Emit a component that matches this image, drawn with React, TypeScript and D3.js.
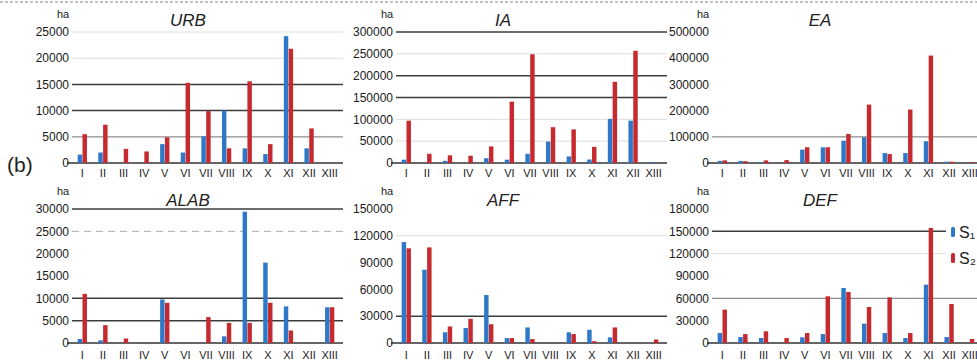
import React from "react";
import * as d3 from "d3";

const categories = ["I", "II", "III", "IV", "V", "VI", "VII", "VIII", "IX", "X", "XI", "XII", "XIII"];
const seriesNames = ["S₁", "S₂"];

// values in ha
const urbS1 = [1600, 2000, 0, 0, 3600, 2000, 5100, 10000, 2800, 1700, 24200, 2800, 0];
const urbS2 = [5500, 7300, 2700, 2200, 4900, 15300, 9900, 2800, 15600, 3600, 21800, 6600, 0];
const iaS1 = [7600, 0, 5000, 0, 11000, 7600, 21000, 49000, 15000, 8000, 101000, 97000, 2000];
const iaS2 = [97000, 21000, 17500, 16700, 38000, 140500, 249000, 82000, 77000, 37000, 186000, 257000, 0];
const eaS1 = [8000, 8000, 3000, 1000, 51000, 60000, 85000, 98000, 38000, 38000, 83000, 5000, 0];
const eaS2 = [10000, 7000, 10000, 11000, 60000, 60000, 111000, 223000, 34000, 204000, 410000, 5000, 3000];
const alabS1 = [900, 600, 0, 0, 9750, 0, 0, 1500, 29400, 18000, 8200, 0, 8000];
const alabS2 = [11000, 4000, 1000, 0, 9000, 0, 5800, 4500, 4500, 9000, 2800, 0, 8000];
const affS1 = [113000, 82000, 12000, 16700, 53700, 5500, 17400, 0, 12000, 14800, 6300, 0, 0];
const affS2 = [106000, 107000, 18500, 27000, 21000, 5500, 4400, 0, 10000, 2000, 17400, 0, 4000];
const defS1 = [13400, 8000, 6700, 0, 7600, 12000, 73900, 26000, 13400, 6700, 78400, 8000, 0];
const defS2 = [44800, 12000, 15700, 6700, 13400, 62700, 68500, 48400, 61300, 13400, 154500, 52400, 5400];

const urbTicks = [0, 5000, 10000, 15000, 20000, 25000];
const iaTicks = [0, 50000, 100000, 150000, 200000, 250000, 300000];
const eaTicks = [0, 100000, 200000, 300000, 400000, 500000];
const alabTicks = [0, 5000, 10000, 15000, 20000, 25000, 30000];
const affTicks = [0, 30000, 60000, 90000, 120000, 150000];
const defTicks = [0, 30000, 60000, 90000, 120000, 150000, 180000];

// how each gridline came out in the scan
const urbGrid = ["axis", "mid", "dark", "dark", "faint", "faint"];
const iaGrid = ["axis", "faint", "faint", "dark", "dark", "faint", "dark"];
const eaGrid = ["axis", "mid", "none", "none", "none", "none"];
const alabGrid = ["axis", "dark", "dark", "none", "none", "dash", "dark"];
const affGrid = ["axis", "dark", "none", "none", "faint", "none"];
const defGrid = ["axis", "none", "mid", "none", "faint", "dark", "none"];

const panels = [
  { title: "URB", s1: urbS1, s2: urbS2, ticks: urbTicks, grid: urbGrid, col: 0, row: 0 },
  { title: "IA", s1: iaS1, s2: iaS2, ticks: iaTicks, grid: iaGrid, col: 1, row: 0 },
  { title: "EA", s1: eaS1, s2: eaS2, ticks: eaTicks, grid: eaGrid, col: 2, row: 0 },
  { title: "ALAB", s1: alabS1, s2: alabS2, ticks: alabTicks, grid: alabGrid, col: 0, row: 1 },
  { title: "AFF", s1: affS1, s2: affS2, ticks: affTicks, grid: affGrid, col: 1, row: 1 },
  { title: "DEF", s1: defS1, s2: defS2, ticks: defTicks, grid: defGrid, col: 2, row: 1 },
];

const cols = [
  { x0: 72, titleX: 188 },
  { x0: 396, titleX: 503 },
  { x0: 712, titleX: 820 },
];
const rows = [
  { top: 32, bottom: 163, titleY: 26, labelY: 177 },
  { top: 209, bottom: 343, titleY: 206, labelY: 359 },
];
const plotW = 268;
const colors = ["#2f78c8", "#c62a2e"];
const font = "'Liberation Sans', Arial, sans-serif";

const gridStyle = {
  axis: { stroke: "#333", width: 1.5, dash: null },
  dark: { stroke: "#3c3c3c", width: 1.5, dash: null },
  mid: { stroke: "#8c8c8c", width: 1.2, dash: null },
  faint: { stroke: "#dedede", width: 1, dash: null },
  dash: { stroke: "#aaa", width: 1, dash: "7,5" },
};

function Panel({ p }) {
  const c = cols[p.col];
  const r = rows[p.row];
  const x = d3
    .scaleBand()
    .domain(categories)
    .range([c.x0, c.x0 + plotW])
    .paddingInner(0.55)
    .paddingOuter(0.275);
  const xs = d3.scaleBand().domain(seriesNames).range([0, x.bandwidth()]).paddingInner(0.08);
  const y = d3
    .scaleLinear()
    .domain([0, p.ticks[p.ticks.length - 1]])
    .range([r.bottom, r.top]);
  const gx1 = Math.min(c.x0 + plotW + 3, 977);

  return (
    <g>
      {p.ticks.map((t, i) => {
        const s = gridStyle[p.grid[i]];
        if (!s) return null;
        return (
          <line
            key={"g" + i}
            x1={i === 0 ? c.x0 - 5 : c.x0}
            x2={gx1}
            y1={y(t)}
            y2={y(t)}
            stroke={s.stroke}
            strokeWidth={s.width}
            strokeDasharray={s.dash || undefined}
          />
        );
      })}
      {categories.map((cat, i) =>
        [p.s1[i], p.s2[i]].map((v, j) =>
          v > 0 ? (
            <rect
              key={cat + j}
              x={x(cat) + xs(seriesNames[j])}
              y={y(v)}
              width={xs.bandwidth()}
              height={r.bottom - y(v)}
              fill={colors[j]}
            />
          ) : null
        )
      )}
      {p.ticks.map((t) => (
        <text
          key={"t" + t}
          x={c.x0 - 3}
          y={y(t)}
          dy="0.35em"
          textAnchor="end"
          fontSize={12}
          fontFamily={font}
          fill="#1a1a1a"
        >
          {t}
        </text>
      ))}
      <text x={c.x0 - 9} y={r.top - 14} textAnchor="middle" fontSize={11} fontFamily={font} fill="#222">
        ha
      </text>
      {categories.map((cat) => (
        <text
          key={"x" + cat}
          x={x(cat) + x.bandwidth() / 2}
          y={r.labelY}
          textAnchor="middle"
          fontSize={11}
          fontFamily={font}
          fill="#222"
        >
          {cat}
        </text>
      ))}
      <text
        x={c.titleX}
        y={r.titleY}
        textAnchor="middle"
        fontSize={17}
        fontStyle="italic"
        fontFamily={font}
        fill="#222"
      >
        {p.title}
      </text>
    </g>
  );
}

export default function App() {
  return (
    <svg width={977} height={363} style={{ position: "absolute", left: 0, top: 0, background: "#fff" }}>
      <line x1={0} x2={977} y1={2} y2={2} stroke="#aaa" strokeWidth={1.5} strokeDasharray="3,2" />
      {panels.map((p) => (
        <Panel key={p.title} p={p} />
      ))}
      <text x={7} y={172} fontSize={21} fontFamily={font} fill="#222">
        (b)
      </text>
      <g>
        <rect x={946} y={220} width={31} height={48} fill="#fff" />
        {seriesNames.map((s, i) => (
          <g key={s} transform={`translate(951, ${232 + i * 26})`}>
            <rect x={0} y={-5} width={4} height={10} rx={1.5} fill={colors[i]} />
            <text x={8} y={0} dy="0.35em" fontSize={16} fontFamily={font} fill="#222">
              {s}
            </text>
          </g>
        ))}
      </g>
    </svg>
  );
}
